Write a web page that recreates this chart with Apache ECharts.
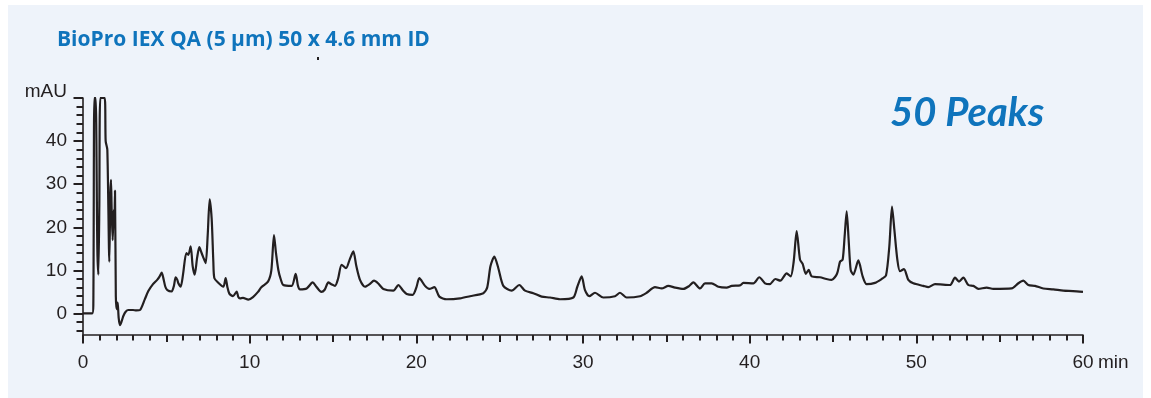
<!DOCTYPE html>
<html>
<head>
<meta charset="utf-8">
<script src="https://cdn.jsdelivr.net/npm/echarts@6/dist/echarts.min.js"></script>
<style>
html,body{margin:0;padding:0;background:#fff;}
#wrap{position:relative;width:1151px;height:398px;overflow:hidden;}
#chart{position:absolute;left:0;top:0;width:1151px;height:398px;}
.edge{position:absolute;background:#fff;pointer-events:none;}
</style>
</head>
<body>
<div id="wrap">
<div id="chart"></div>
<div class="edge" style="left:0;top:0;width:8px;height:398px;"></div>
<div class="edge" style="left:0;top:0;width:1151px;height:5px;"></div>
<div class="edge" style="left:1143px;top:0;width:8px;height:398px;"></div>
</div>
<script>
// Retention time (min)
const times = [
  0, 0.55, 0.62, 0.68, 0.76, 0.86, 0.92, 0.98, 1.04, 1.3, 1.36, 1.46, 1.58, 1.64, 1.68, 1.72, 1.78, 1.84, 1.88, 1.92,
  1.97, 2.02, 2.08, 2.14, 2.22, 2.32, 2.42, 2.56, 2.72, 3.0, 3.2, 3.42, 3.7, 3.92, 4.2, 4.45, 4.6, 4.72, 4.82, 4.94,
  5.06, 5.32, 5.46, 5.56, 5.66, 5.72, 5.86, 6.0, 6.2, 6.32, 6.46, 6.58, 6.7, 6.85, 6.98, 7.1, 7.2, 7.36, 7.48, 7.6,
  7.72, 7.82, 7.88, 8.1, 8.42, 8.56, 8.66, 8.78, 9.0, 9.22, 9.32, 9.42, 9.6, 9.92, 10.2, 10.5, 10.7, 11.1, 11.3, 11.46,
  11.58, 11.72, 11.86, 12.02, 12.52, 12.76, 12.9, 13.02, 13.42, 13.78, 14.0, 14.3, 14.5, 14.72, 14.9, 15.12, 15.3, 15.52, 15.78, 16.0,
  16.22, 16.4, 16.62, 16.92, 17.2, 17.46, 17.7, 18.02, 18.62, 18.92, 19.2, 19.42, 19.78, 20.0, 20.18, 20.52, 20.78, 21.08, 21.38, 21.82,
  22.62, 23.22, 24.02, 24.25, 24.45, 24.68, 24.92, 25.22, 25.72, 26.18, 26.52, 27.02, 27.52, 28.02, 28.62, 29.42, 29.66, 29.92, 30.12, 30.38,
  30.72, 31.22, 31.92, 32.22, 32.62, 33.42, 33.82, 34.32, 34.72, 35.12, 35.52, 36.02, 36.38, 36.62, 37.02, 37.32, 37.72, 38.12, 38.62, 38.92,
  39.42, 39.62, 40.22, 40.58, 40.92, 41.2, 41.54, 41.84, 42.22, 42.46, 42.64, 42.82, 43.02, 43.18, 43.37, 43.54, 43.72, 44.22, 44.6, 44.92,
  45.24, 45.42, 45.58, 45.7, 45.82, 45.94, 46.06, 46.22, 46.52, 46.78, 47.02, 47.52, 47.92, 48.18, 48.38, 48.54, 48.68, 48.86, 49.02, 49.26,
  49.52, 49.82, 50.42, 50.72, 51.12, 52.02, 52.32, 52.56, 52.82, 53.12, 53.42, 53.72, 54.22, 54.62, 55.72, 56.12, 56.42, 56.72, 57.12, 57.62,
  58.22, 58.82, 59.4, 60.0
];
// Absorbance (mAU); 50 = trace off scale at the top of the plot
const absorbance = [
  0, 0, 2, 50, 50, 15, 9, 25, 50, 50, 40, 38, 12, 28, 31, 24, 17, 24, 20, 28.5,
  4, 1, 2.5, -1, -2.7, -1.8, -0.6, 0.4, 0.8, 0.8, 0.7, 0.8, 3.2, 5.2, 6.8, 7.8, 8.6, 9.5, 8.2, 6.2,
  5.4, 5.1, 6.5, 8.4, 7.8, 7.0, 6.2, 9, 14, 13.6, 15.6, 11, 9, 13, 15.4, 14.2, 13.2, 11.7, 18, 26.5,
  22, 12, 8.2, 7.2, 6.2, 8.2, 6.2, 4.6, 4.0, 5.1, 3.8, 3.5, 3.6, 3.2, 3.8, 5.0, 6.1, 7.4, 10, 18.2,
  14, 10.1, 8, 6.6, 6.4, 9.2, 6.4, 5.6, 5.8, 7.2, 6.2, 5.0, 5.5, 7.2, 6.8, 6.4, 8, 11.3, 10.5, 12.5,
  14.4, 11, 7.8, 6.2, 6.8, 7.6, 7.0, 5.7, 5.3, 6.6, 5.3, 4.5, 4.3, 6, 8.2, 6.4, 5.7, 6.1, 3.9, 3.3,
  3.5, 4.0, 4.7, 6, 11, 13.2, 10.5, 6.4, 5.3, 6.6, 5.3, 4.7, 3.9, 3.7, 3.3, 3.7, 6.2, 8.6, 5.4, 4.0,
  4.8, 3.7, 4.0, 4.8, 3.7, 4.0, 4.8, 6.1, 5.8, 6.4, 6.0, 5.7, 6.4, 7.2, 5.8, 7.0, 7.0, 6.2, 6.0, 6.4,
  6.5, 7.1, 7.0, 8.4, 7.0, 6.8, 8.0, 7.6, 9.3, 8.6, 12, 19.1, 12.5, 11.5, 9.2, 10.1, 8.6, 8.4, 8.0, 7.8,
  9.2, 12, 12.5, 18, 23.7, 17, 10.1, 9.0, 12.3, 8.6, 6.8, 7.1, 8.0, 8.8, 15.6, 24.8, 19.5, 12.5, 9.8, 10.3,
  7.8, 7.0, 6.4, 6.1, 6.8, 6.6, 8.3, 7.4, 8.3, 6.6, 6.4, 5.7, 6.0, 5.7, 5.8, 7.0, 7.6, 6.6, 6.4, 5.8,
  5.6, 5.3, 5.2, 5.0
];
// Axis ranges / tick steps
const xRange = [0, 60];
const xLabelStep = 10;
const xMidStep = 5;
const xMinorStep = 1;
const yRange = [-5, 50];
const yMajorRange = [0, 50];
const yMajorStep = 10;
const yMinorRange = [-4, 50];
const yMinorStep = 2;
const yTopHidden = 50;
const titleText = 'BioPro IEX QA (5 μm) 50 x 4.6 mm ID';
const peaksText = '50 Peaks';
const yUnit = 'mAU';
const xUnit = 'min';

const ink = '#231f20';
const blue = '#0f74bc';
const panel = '#eef3fa';
const labelFont = 'Liberation Sans, Arial, sans-serif';

const seriesData = times.map((t, i) => [t, absorbance[i]]);

// Plot geometry (pixels)
const H = 398;
const plotLeft = 83, plotRight = 68, plotTop = 98, plotBottom = 63;
const plotH = H - plotTop - plotBottom;
const pxPerUnit = plotH / (yRange[1] - yRange[0]);
// extra grids share the data axis' value-to-pixel mapping so their ticks line up
function gridFor(range) {
  const h = (range[1] - range[0]) * pxPerUnit;
  const bottomPx = H - plotBottom - (range[0] - yRange[0]) * pxPerUnit;
  return { left: plotLeft, right: plotRight, top: bottomPx - h, height: h };
}

function xAxisBase(gridIndex, interval, len, showLabel, showLine, showTicks) {
  return {
    type: 'value', min: xRange[0], max: xRange[1], interval: interval, position: 'bottom', gridIndex: gridIndex,
    axisLine: { show: showLine, onZero: false, lineStyle: { color: ink, width: 1.6 } },
    axisTick: { show: showTicks, length: len, lineStyle: { color: ink, width: 2 } },
    axisLabel: { show: showLabel, margin: 18, color: ink, fontSize: 19, fontFamily: labelFont },
    splitLine: { show: false }
  };
}

const chart = echarts.init(document.getElementById('chart'), null, { renderer: 'canvas' });
chart.setOption({
  backgroundColor: panel,
  animation: false,
  grid: [
    { left: plotLeft, right: plotRight, top: plotTop, bottom: plotBottom },
    gridFor(yMinorRange),
    gridFor(yMajorRange)
  ],
  title: {
    text: titleText, left: 52, top: 25,
    textStyle: { color: blue, fontSize: 21, fontWeight: 'bold', fontFamily: 'Open Sans, sans-serif' }
  },
  xAxis: [
    xAxisBase(0, xLabelStep, 8.5, true, true, true),
    xAxisBase(0, xMidStep, 7, false, false, true),
    xAxisBase(0, xMinorStep, 5.5, false, false, true),
    { type: 'value', min: xRange[0], max: xRange[1], gridIndex: 1, show: false },
    { type: 'value', min: xRange[0], max: xRange[1], gridIndex: 2, show: false }
  ],
  yAxis: [
    {
      type: 'value', min: yRange[0], max: yRange[1], position: 'left', gridIndex: 0,
      axisLine: { show: true, onZero: false, lineStyle: { color: ink, width: 1.6 } },
      axisTick: { show: false }, axisLabel: { show: false }, splitLine: { show: false }
    },
    {
      type: 'value', min: yMinorRange[0], max: yMinorRange[1], interval: yMinorStep, position: 'left', gridIndex: 1,
      axisLine: { show: false, onZero: false },
      axisTick: { show: true, length: 6.5, lineStyle: { color: ink, width: 2 } },
      axisLabel: { show: false }, splitLine: { show: false }
    },
    {
      type: 'value', min: yMajorRange[0], max: yMajorRange[1], interval: yMajorStep, position: 'left', gridIndex: 2,
      axisLine: { show: false, onZero: false },
      axisTick: { show: true, length: 9.5, lineStyle: { color: ink, width: 2 } },
      axisLabel: {
        show: true, margin: 16, color: ink, fontSize: 19, fontFamily: labelFont,
        formatter: v => (v === yTopHidden ? '' : String(v))
      },
      splitLine: { show: false }
    }
  ],
  graphic: [
    { type: 'rect', shape: { x: 317, y: 57, width: 2, height: 3 }, style: { fill: ink } },
    { type: 'text', x: 67, y: 92, style: { text: yUnit, fill: ink, font: '19px ' + labelFont, textAlign: 'right', textVerticalAlign: 'middle' } },
    { type: 'text', x: 1098, y: 363, style: { text: xUnit, fill: ink, font: '19px ' + labelFont, textAlign: 'left', textVerticalAlign: 'middle' } },
    { type: 'text', x: 890, y: 113, style: { text: peaksText, fill: blue, font: 'italic bold 40px Lato, sans-serif', textAlign: 'left', textVerticalAlign: 'middle' } }
  ],
  series: [
    {
      type: 'line', xAxisIndex: 0, yAxisIndex: 0, data: seriesData,
      showSymbol: false, symbol: 'none', smooth: 0.25, clip: true,
      lineStyle: { color: ink, width: 2.2 }
    }
  ]
});
</script>
</body>
</html>
